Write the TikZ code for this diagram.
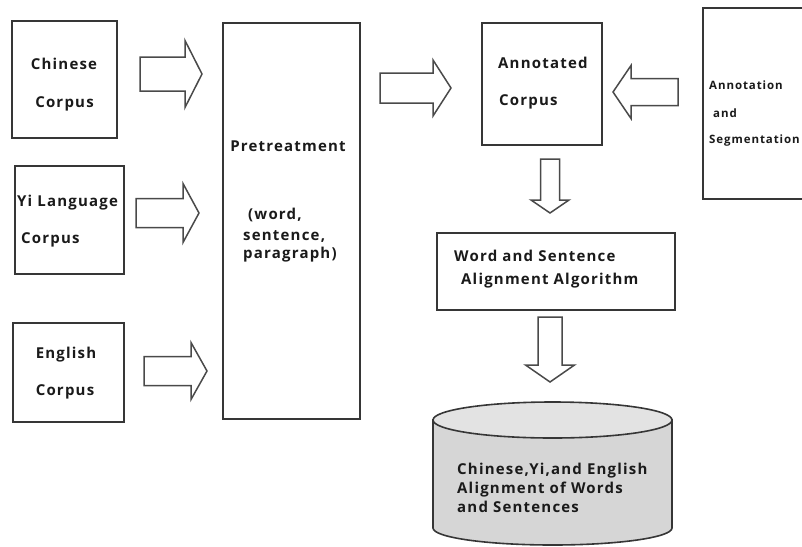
\documentclass[tikz,border=0pt]{standalone}
\usepackage{fontspec}
\setmainfont{Open Sans}[LetterSpace=8]
\definecolor{boxc}{HTML}{363636}
\definecolor{arrc}{HTML}{4A4A4A}
\definecolor{txtc}{HTML}{1A1A1A}
\definecolor{cylbody}{HTML}{D6D6D6}
\definecolor{cyltop}{HTML}{E3E3E3}
\newcommand\blockarrow[7]{%
  \draw[barrow,shift={(#1,#2)},rotate=#3] (0,-#6)--(#4-#5,-#6)--(#4-#5,-#7)--(#4,0)--(#4-#5,#7)--(#4-#5,#6)--(0,#6)--cycle;}
\begin{document}
\begin{tikzpicture}[x=1pt,y=-1pt,
  box/.style={draw=boxc, line width=1.8pt, fill=white, inner sep=0pt},
  lbl/.style={anchor=base west, inner sep=0pt, text=txtc, font=\fontsize{15}{18}\selectfont\bfseries},
  clbl/.style={lbl, anchor=base},
  sml/.style={lbl, font=\fontsize{11.5}{14}\selectfont\bfseries},
  barrow/.style={draw=arrc, line width=1.5pt, fill=white, line join=miter}]
\useasboundingbox (0,0) rectangle (802,546);
\clip (0,0) rectangle (802,546);
% boxes
\node[box, minimum width=105pt, minimum height=117pt] (chn) at (64.5,79.5) {};
\node[box, minimum width=109pt, minimum height=108pt] (yi) at (69.5,220) {};
\node[box, minimum width=111pt, minimum height=99pt] (eng) at (68.5,372.5) {};
\node[box, minimum width=137pt, minimum height=396pt] (pre) at (291.5,221) {};
\node[box, minimum width=120pt, minimum height=122pt] (ann) at (542,84) {};
\node[box, minimum width=109pt, minimum height=191pt] (seg) at (757.5,103.5) {};
\node[box, minimum width=238pt, minimum height=77pt] (wsa) at (556,271.5) {};
% texts
\node[clbl] (chn1) at (64,69) {Chinese};
\node[clbl] (chn2) at (64.5,107) {Corpus};
\node[lbl] (yi1) at (17,206) {Yi Language};
\node[lbl] (yi2) at (21,243) {Corpus};
\node[clbl] (eng1) at (66,358) {English};
\node[clbl] (eng2) at (65,395) {Corpus};
\node[clbl] (pre1) at (288,151) {Pretreatment};
\node[lbl] (pre2) at (248,219) {(word,};
\node[lbl] (pre3) at (243,240) {sentence,};
\node[lbl] (pre4) at (243,258) {paragraph)};
\node[lbl] (ann1) at (498,68) {Annotated};
\node[lbl] (ann2) at (499,105) {Corpus};
\node[sml] (seg1) at (709,89) {Annotation};
\node[sml] (seg2) at (713,117) {and};
\node[sml] (seg3) at (709,143) {Segmentation};
\node[lbl] (wsa1) at (454,261) {Word and Sentence};
\node[lbl] (wsa2) at (461,284) {Alignment Algorithm};
% block arrows
\blockarrow{140}{74}{0}{62}{17}{17}{33.5}
\blockarrow{136}{213}{0}{63}{16}{14.5}{29.5}
\blockarrow{144}{371}{0}{63}{16}{14.5}{28.5}
\blockarrow{380}{88}{0}{71}{18}{15}{28}
\blockarrow{678}{92}{180}{65}{18}{13.5}{26.5}
\blockarrow{550}{159}{-90}{54}{13}{9.5}{19}
\blockarrow{550}{317}{-90}{65}{17}{12}{24.5}
% cylinder
\path[draw=boxc, line width=1.6pt, fill=cylbody] (433,420) -- (433,528) arc[start angle=180, end angle=360, x radius=119.5pt, y radius=17pt] -- (672,420) -- cycle;
\draw[draw=boxc, line width=1.6pt, fill=cyltop] (552.5,420) ellipse[x radius=119.5pt, y radius=18pt];
\node[lbl] (db1) at (457,474) {Chinese,Yi,and English};
\node[lbl] (db2) at (457,493) {Alignment of Words};
\node[lbl] (db3) at (457,512) {and Sentences};
\end{tikzpicture}
\end{document}
